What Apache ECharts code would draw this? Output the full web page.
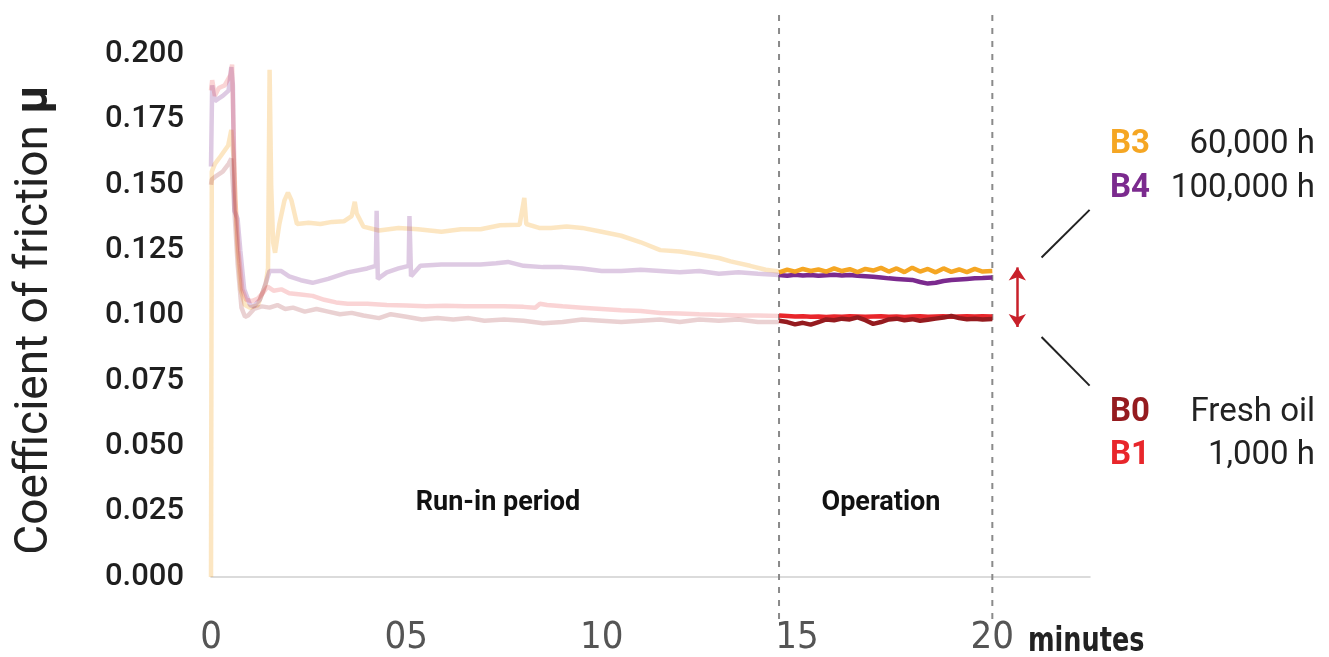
<!DOCTYPE html>
<html><head><meta charset="utf-8">
<script src="https://cdn.jsdelivr.net/npm/echarts@6/dist/echarts.min.js"></script>
<style>html,body{margin:0;padding:0;background:#fff}#c{width:1329px;height:657px}</style>
</head><body><div id="c"></div>
<script>
// ---- data ----
const seriesNames = ['B3', 'B4', 'B0', 'B1'];
const seriesLabels = ['60,000 h', '100,000 h', 'Fresh oil', '1,000 h'];
const xTickLabels = ['0', '05', '10', '15', '20'];
const opStart = 14.54;
const opEnd = 20;

const b3RunT = [0,0.02,0.1,0.25,0.44,0.52,0.58,0.68,0.76,0.87,1.0,1.2,1.4,1.46,1.5,1.54,1.59,1.64,1.75,1.88,1.97,2.06,2.2,2.5,2.8,3.1,3.4,3.6,3.68,3.73,3.9,4.3,4.8,5.3,5.9,6.4,6.9,7.4,7.9,8.02,8.07,8.4,8.7,9.1,9.5,10.0,10.5,11.0,11.5,12.0,12.5,13.0,13.3,13.8,14.2,14.54];
const b3RunV = [0,0.155,0.158,0.161,0.165,0.171,0.160,0.125,0.110,0.104,0.103,0.104,0.112,0.118,0.194,0.150,0.128,0.124,0.135,0.144,0.147,0.144,0.135,0.1355,0.135,0.1358,0.136,0.138,0.1435,0.139,0.134,0.1325,0.1335,0.133,0.132,0.133,0.133,0.1345,0.1347,0.145,0.135,0.1335,0.1335,0.134,0.1335,0.132,0.1305,0.128,0.125,0.1245,0.1233,0.122,0.1207,0.119,0.1175,0.1168];

const b4RunT = [0,0.03,0.1,0.2,0.3,0.45,0.52,0.56,0.6,0.68,0.75,0.85,1.0,1.1,1.25,1.35,1.5,1.8,2.0,2.3,2.6,3.0,3.5,4.0,4.22,4.24,4.27,4.5,4.8,5.06,5.08,5.12,5.36,5.9,6.4,6.9,7.3,7.6,8.0,8.5,9.0,9.5,10.0,10.5,11.0,11.5,12.0,12.5,13.0,13.5,14.0,14.54];
const b4RunV = [0.157,0.188,0.182,0.183,0.184,0.186,0.195,0.188,0.140,0.137,0.125,0.110,0.104,0.1035,0.106,0.110,0.117,0.117,0.115,0.1135,0.1125,0.114,0.1165,0.118,0.119,0.140,0.114,0.1165,0.118,0.119,0.138,0.115,0.119,0.1195,0.1195,0.1195,0.120,0.1205,0.119,0.1185,0.1185,0.118,0.117,0.117,0.1175,0.117,0.1165,0.117,0.116,0.1165,0.116,0.1155];

const b0RunT = [0,0.02,0.1,0.3,0.45,0.52,0.58,0.68,0.78,0.87,0.95,1.1,1.3,1.5,1.7,1.9,2.1,2.4,2.7,3.0,3.3,3.6,3.9,4.3,4.6,5.0,5.4,5.8,6.2,6.6,7.0,7.5,8.0,8.5,9.0,9.5,10.0,10.5,11.0,11.5,12.0,12.5,13.0,13.5,14.0,14.54];
const b0RunV = [0.150,0.152,0.153,0.155,0.158,0.160,0.145,0.120,0.103,0.0995,0.100,0.1025,0.1035,0.103,0.104,0.1025,0.103,0.1015,0.1025,0.1015,0.1005,0.101,0.100,0.099,0.1005,0.0995,0.0985,0.099,0.0985,0.099,0.098,0.0985,0.098,0.097,0.0975,0.0985,0.098,0.0975,0.098,0.0985,0.0975,0.0985,0.098,0.0985,0.0975,0.0975];

const b1RunT = [0,0.03,0.1,0.2,0.35,0.5,0.54,0.57,0.62,0.7,0.8,0.9,1.05,1.2,1.35,1.45,1.6,1.8,2.0,2.3,2.6,2.9,3.2,3.5,4.0,4.5,5.0,5.5,6.0,6.5,7.0,7.5,8.0,8.3,8.42,8.6,9.0,9.5,10.0,10.5,11.0,11.5,12.0,12.5,13.0,13.5,14.0,14.54];
const b1RunV = [0.186,0.190,0.184,0.187,0.188,0.192,0.196,0.175,0.145,0.125,0.110,0.106,0.1055,0.1065,0.109,0.111,0.1095,0.110,0.1085,0.108,0.1075,0.106,0.105,0.1045,0.1045,0.104,0.1038,0.1035,0.1037,0.1035,0.1035,0.1035,0.1033,0.103,0.1045,0.104,0.1035,0.103,0.1025,0.102,0.1017,0.101,0.1008,0.1005,0.1003,0.100,0.100,0.0998];

const opTime = [14.54,14.75,14.95,15.15,15.35,15.55,15.75,15.95,16.15,16.35,16.55,16.75,16.95,17.15,17.35,17.55,17.75,17.95,18.15,18.35,18.55,18.75,18.95,19.15,19.35,19.55,19.75,20.0];
const b3Op = [0.1165,0.1175,0.1168,0.1178,0.1170,0.1176,0.1168,0.1180,0.1170,0.1177,0.1166,0.1178,0.1172,0.1182,0.1168,0.1180,0.1166,0.1183,0.1168,0.1178,0.1165,0.1180,0.1167,0.1176,0.1166,0.1178,0.1168,0.1170];
const b4Op = [0.1155,0.1152,0.1156,0.1153,0.1155,0.1152,0.1154,0.1156,0.1153,0.1155,0.1152,0.1150,0.1148,0.1145,0.1142,0.1140,0.1138,0.1136,0.1128,0.1122,0.1125,0.1132,0.1136,0.1138,0.1140,0.1142,0.1143,0.1145];
const b0Op = [0.098,0.0975,0.0966,0.0972,0.0965,0.0975,0.0985,0.0982,0.0988,0.0985,0.0993,0.0982,0.0968,0.0975,0.0985,0.0988,0.0982,0.0986,0.0980,0.0984,0.0988,0.0992,0.0998,0.0990,0.0986,0.0988,0.0985,0.0987];
const b1Op = [0.1,0.0998,0.0996,0.0997,0.0995,0.0996,0.0994,0.0996,0.0995,0.0997,0.0996,0.0995,0.0996,0.0997,0.0995,0.0996,0.0994,0.0996,0.0997,0.0995,0.0996,0.0997,0.0995,0.0996,0.0997,0.0996,0.0997,0.0996];

// gap arrow and leader lines (data coordinates)
const gapArrow = [[20.64, 0.1184], [20.64, 0.0956]];
const leaderTop = [[21.26, 0.1222], [22.49, 0.1404]];
const leaderBottom = [[21.26, 0.0918], [22.49, 0.0732]];

// ---- styling ----
const colors = { B3: '#F5A623', B4: '#7B2A8E', B0: '#951B1F', B1: '#E8262B' };
const fadeOpacity = { B3: 0.28, B4: 0.25, B0: 0.2, B1: 0.2 };

const zip = (t, v) => t.map((x, i) => [x, v[i]]);
const runData = { B3: zip(b3RunT, b3RunV), B4: zip(b4RunT, b4RunV), B0: zip(b0RunT, b0RunV), B1: zip(b1RunT, b1RunV) };
const opData = { B3: zip(opTime, b3Op), B4: zip(opTime, b4Op), B0: zip(opTime, b0Op), B1: zip(opTime, b1Op) };

const series = [];
['B3', 'B4', 'B1', 'B0'].forEach(n => {
  series.push({ name: n + ' run-in', type: 'line', data: runData[n], showSymbol: false, symbol: 'none',
    lineStyle: { color: colors[n], width: 4.5, opacity: fadeOpacity[n] }, z: 2, silent: true });
});
['B4', 'B3', 'B1', 'B0'].forEach(n => {
  series.push({ name: n, type: 'line', data: opData[n], showSymbol: false, symbol: 'none',
    lineStyle: { color: colors[n], width: 4.5 }, z: 3, silent: true });
});
series.push({
  type: 'line', data: [], silent: true,
  markLine: {
    silent: true, animation: false, label: { show: false },
    data: [
      [{ coord: gapArrow[0], symbol: 'arrow', symbolSize: 13, lineStyle: { color: '#C8202A', width: 2.5, type: 'solid' } },
       { coord: gapArrow[1], symbol: 'arrow', symbolSize: 13 }],
      [{ coord: leaderTop[0], symbol: 'none', lineStyle: { color: '#222', width: 2, type: 'solid' } },
       { coord: leaderTop[1], symbol: 'none' }],
      [{ coord: leaderBottom[0], symbol: 'none', lineStyle: { color: '#222', width: 2, type: 'solid' } },
       { coord: leaderBottom[1], symbol: 'none' }]
    ]
  }
});

const chart = echarts.init(document.getElementById('c'), null, { renderer: 'canvas' });
const option = {
  animation: false,
  backgroundColor: '#fff',
  grid: { left: 211, right: 239, top: 54, bottom: 72, containLabel: false },
  xAxis: {
    type: 'value', min: 0, max: 22.5, interval: 5, offset: 8,
    axisLine: { show: true, lineStyle: { color: '#d0d0d0', width: 1.5 } },
    axisTick: { show: false }, splitLine: { show: false },
    axisLabel: {
      margin: 34, color: '#555', fontSize: 38,
      fontFamily: "'Liberation Sans Narrow', 'DejaVu Sans Condensed', sans-serif",
      formatter: v => { const i = [0, 5, 10, 15, 20].indexOf(v); return i >= 0 ? xTickLabels[i] : ''; }
    }
  },
  yAxis: {
    type: 'value', min: 0, max: 0.2, interval: 0.025,
    axisLine: { show: false }, axisTick: { show: false }, splitLine: { show: false },
    axisLabel: { margin: 27, color: '#1f1f1f', fontSize: 31, fontWeight: 500, fontFamily: 'Roboto',
      formatter: v => v.toFixed(3) }
  },
  series: series
};
chart.setOption(option);

const xa = chart.convertToPixel({ xAxisIndex: 0 }, opStart);
const xb = chart.convertToPixel({ xAxisIndex: 0 }, opEnd);
const dashStyle = { stroke: '#8a8a8a', lineWidth: 2, lineDash: [6, 7] };
const legendItems = [
  { n: 0, y: 145 }, { n: 1, y: 189 }, { n: 2, y: 413 }, { n: 3, y: 456 }
];
const graphics = [
  { type: 'line', shape: { x1: xa, y1: 15, x2: xa, y2: 622 }, style: dashStyle, z: 1 },
  { type: 'line', shape: { x1: xb, y1: 15, x2: xb, y2: 622 }, style: dashStyle, z: 1 },
  { type: 'text', x: 498, y: 503, style: { text: 'Run-in period', font: "bold 27px Roboto", fill: '#111', align: 'center', verticalAlign: 'middle' } },
  { type: 'text', x: 881, y: 503, style: { text: 'Operation', font: "bold 27px Roboto", fill: '#111', align: 'center', verticalAlign: 'middle' } },
  { type: 'text', x: 1028, y: 642, scaleX: 0.86, originX: 0, originY: 0,
    style: { text: 'minutes', font: "bold 33px 'Liberation Sans Narrow', 'DejaVu Sans Condensed', sans-serif", fill: '#222', align: 'left', verticalAlign: 'middle' } },
  { type: 'text', x: 35, y: 320, rotation: Math.PI / 2,
    style: { text: '{a|Coefficient of friction }{b|μ}', align: 'center', verticalAlign: 'middle',
      rich: { a: { font: "400 46px Roboto", fill: '#222' }, b: { font: "bold 46px Roboto", fill: '#222' } } } }
];
legendItems.forEach(it => {
  const name = seriesNames[it.n];
  graphics.push({ type: 'text', x: 1110, y: it.y, style: { text: name, font: "bold 33px Roboto", fill: colors[name], align: 'left', verticalAlign: 'middle' } });
  graphics.push({ type: 'text', x: 1315, y: it.y, style: { text: seriesLabels[it.n], font: "33px Roboto", fill: '#222', align: 'right', verticalAlign: 'middle' } });
});
chart.setOption({ graphic: graphics });
</script>
</body></html>
